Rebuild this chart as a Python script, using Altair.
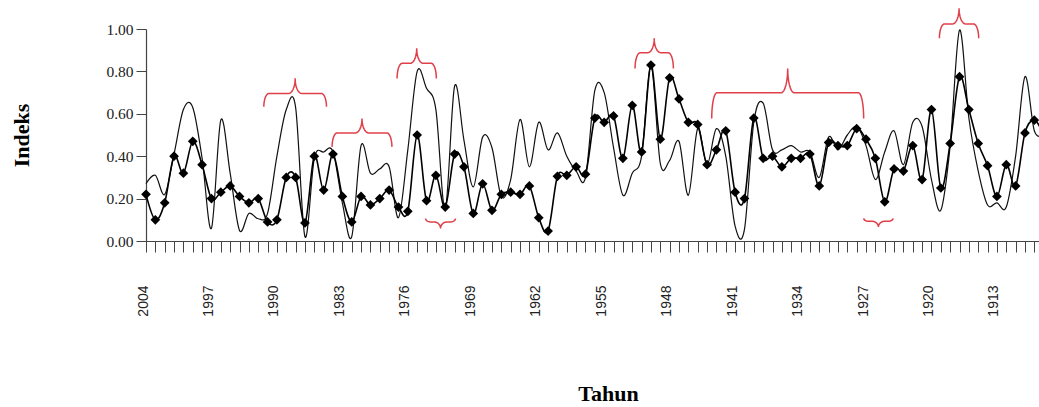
import altair as alt
import numpy as np
import pandas as pd

# ---- data (years 2004 -> 1908) ----
years = list(range(2004, 1907, -1))

indeks_diamond = [
    0.22, 0.10, 0.18, 0.40, 0.32, 0.47, 0.36, 0.20, 0.23, 0.26,   # 2004-1995
    0.21, 0.18, 0.20, 0.09, 0.10, 0.30, 0.30, 0.085, 0.40, 0.24,  # 1994-1985
    0.41, 0.21, 0.09, 0.21, 0.17, 0.20, 0.24, 0.16, 0.14, 0.50,   # 1984-1975
    0.19, 0.31, 0.16, 0.41, 0.35, 0.13, 0.27, 0.145, 0.22, 0.23,  # 1974-1965
    0.22, 0.26, 0.11, 0.047, 0.305, 0.31, 0.35, 0.315, 0.58, 0.56, # 1964-1955
    0.59, 0.39, 0.64, 0.42, 0.83, 0.48, 0.77, 0.67, 0.56, 0.55,   # 1954-1945
    0.36, 0.43, 0.52, 0.23, 0.20, 0.58, 0.39, 0.40, 0.35, 0.39,   # 1944-1935
    0.39, 0.41, 0.26, 0.465, 0.45, 0.45, 0.53, 0.48, 0.39, 0.185, # 1934-1925
    0.34, 0.33, 0.45, 0.29, 0.62, 0.25, 0.46, 0.775, 0.62, 0.46,  # 1924-1915
    0.355, 0.21, 0.36, 0.26, 0.51, 0.57, 0.50,                    # 1914-1908
]

indeks_smooth = [
    0.27, 0.31, 0.22, 0.41, 0.62, 0.63, 0.39, 0.06, 0.57, 0.32,   # 2004-1995
    0.05, 0.13, 0.105, 0.13, 0.40, 0.62, 0.63, 0.02, 0.39, 0.42,  # 1994-1985
    0.42, 0.18, 0.02, 0.45, 0.32, 0.34, 0.35, 0.11, 0.43, 0.80,   # 1984-1975
    0.72, 0.62, 0.15, 0.73, 0.476, 0.255, 0.49, 0.44, 0.21, 0.29, # 1974-1965
    0.573, 0.35, 0.56, 0.43, 0.51, 0.40, 0.33, 0.30, 0.71, 0.70,  # 1964-1955
    0.44, 0.216, 0.32, 0.40, 0.83, 0.366, 0.38, 0.47, 0.216, 0.53, # 1954-1945
    0.36, 0.53, 0.40, 0.07, 0.055, 0.56, 0.65, 0.43, 0.43, 0.45,  # 1944-1935
    0.42, 0.42, 0.30, 0.49, 0.43, 0.50, 0.54, 0.45, 0.29, 0.42,   # 1934-1925
    0.52, 0.36, 0.56, 0.54, 0.29, 0.145, 0.45, 0.995, 0.58, 0.33, # 1924-1915
    0.17, 0.18, 0.16, 0.40, 0.775, 0.52, 0.50,                    # 1914-1908
]

y_ticks = [0.0, 0.2, 0.4, 0.6, 0.8, 1.0]

# red braces: left year, right year, arm-end level, bar level, tip level
brace_left = [1991.4, 1984.1, 1977.15, 1974.1, 1951.7, 1943.5, 1927.25, 1919.15]
brace_right = [1984.7, 1977.7, 1972.95, 1970.9, 1947.6, 1927.25, 1924.1, 1914.95]
brace_base = [0.633, 0.444, 0.767, 0.106, 0.814, 0.578, 0.107, 0.956]
brace_level = [0.696, 0.510, 0.838, 0.090, 0.888, 0.699, 0.093, 1.024]
brace_tip = [0.767, 0.578, 0.909, 0.059, 0.956, 0.814, 0.066, 1.098]

# ---- tables ----
smooth_df = pd.DataFrame({"year": years, "value": indeks_smooth})
diamond_df = pd.DataFrame({"year": years, "value": indeks_diamond})

rows = []
t = np.linspace(0, np.pi / 2, 12)
for b in range(len(brace_left)):
    ul, ur = 2004 - brace_left[b], 2004 - brace_right[b]
    um = (ul + ur) / 2
    base, level, tip = brace_base[b], brace_level[b], brace_tip[b]
    r, r2 = 0.55, 0.7
    pts = []
    pts += [(ul + r * (1 - np.cos(a)), base + (level - base) * np.sin(a)) for a in t]
    pts += [(um - r2 + r2 * np.sin(a), tip - (tip - level) * np.cos(a)) for a in t]
    pts += [(um + r2 - r2 * np.sin(a), tip - (tip - level) * np.cos(a)) for a in t[::-1]]
    pts += [(ur - r * (1 - np.cos(a)), base + (level - base) * np.sin(a)) for a in t[::-1]]
    for i, (u, v) in enumerate(pts):
        rows.append({"b": b, "i": i, "year": 2004 - u, "value": v})
braces = pd.DataFrame(rows)

x_enc = alt.X(
    "year:Q",
    scale=alt.Scale(domain=[1908.5, 2004], reverse=True, nice=False, zero=False),
    axis=alt.Axis(
        values=years,
        labelExpr="(2004 - datum.value) % 7 == 0 ? '' + datum.value : ''",
        labelAngle=270,
        labelOverlap=False,
        labelFlush=False,
        labelBound=False,
        labelPadding=33,
        labelOffset=-3,
        labelFont="Liberation Sans",
        labelFontSize=14,
        labelColor="#222",
        tickSize=11,
        tickColor="#444",
        tickWidth=1,
        domainColor="#444",
        domainWidth=1.2,
        grid=False,
        title="Tahun",
        titleFont="Liberation Serif",
        titleFontWeight="bold",
        titleFontSize=22,
        titleColor="#000",
        titleX=462,
        titleY=152,
        titleAlign="center",
        titleBaseline="middle",
    ),
)

y_enc = alt.Y(
    "value:Q",
    scale=alt.Scale(domain=[0, 1], nice=False, zero=True),
    axis=alt.Axis(
        values=y_ticks,
        format=".2f",
        labelFont="Liberation Serif",
        labelFontSize=15.5,
        labelColor="#222",
        labelPadding=3,
        tickSize=10,
        tickColor="#444",
        domainColor="#444",
        domainWidth=1.2,
        grid=False,
        title="Indeks",
        titleFont="Liberation Serif",
        titleFontWeight="bold",
        titleFontSize=22,
        titleColor="#000",
        titleAngle=270,
        titleX=-125,
        titleY=106,
        titleAlign="center",
        titleBaseline="middle",
    ),
)

smooth_line = alt.Chart(smooth_df).mark_line(
    interpolate="cardinal", color="#111", strokeWidth=1.2
).encode(x=x_enc, y=y_enc)
diamond_line = alt.Chart(diamond_df).mark_line(
    interpolate="cardinal", color="#000", strokeWidth=1.6
).encode(x=x_enc, y=y_enc)
diamond_pts = alt.Chart(diamond_df).mark_point(
    shape="diamond", filled=True, size=95, color="#000", opacity=1
).encode(x=x_enc, y=y_enc)
brace_lines = alt.Chart(braces).mark_line(
    color="#e0404a", strokeWidth=1.5, interpolate="linear"
).encode(x=x_enc, y=y_enc, detail="b:N", order="i:Q")

chart = (
    alt.layer(brace_lines, smooth_line, diamond_line, diamond_pts)
    .properties(
        width=893,
        height=212,
        autosize=alt.AutoSizeParams(type="none"),
        padding={"left": 146, "top": 29, "right": 0, "bottom": 166},
        background="white",
    )
    .configure_view(strokeWidth=0)
)

chart.save("out.html", embed_options={"renderer": "svg", "actions": False})
